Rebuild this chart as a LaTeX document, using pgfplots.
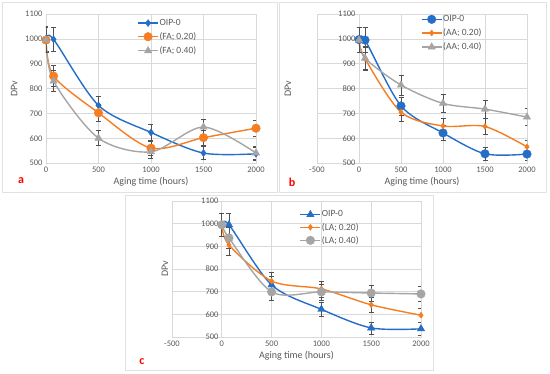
\documentclass[border=0pt]{standalone}
\usepackage{pgfplots}
\pgfplotsset{compat=1.18}
\usepackage{fontspec}
\setmainfont{Carlito}
\definecolor{bl}{RGB}{36,110,200}
\definecolor{orng}{RGB}{245,125,35}
\definecolor{gry}{RGB}{165,165,165}
\definecolor{gridgray}{RGB}{217,217,217}
\definecolor{tickgray}{RGB}{89,89,89}
\definecolor{errgray}{RGB}{80,80,80}
\definecolor{bordergray}{RGB}{225,225,225}
\pgfplotsset{
  panel/.style={
    scale only axis,
    ymin=500, ymax=1100, ytick={500,600,...,1100},
    xtick={-500,0,500,1000,1500,2000},
    grid=major, grid style={draw=gridgray, line width=0.6pt},
    axis line style={draw=gridgray, line width=0.6pt},
    major tick length=0pt,
    tick label style={font=\fontsize{8.5}{9}\selectfont, text=tickgray},
    /pgf/number format/assume math mode=true,
    /pgf/number format/set thousands separator={},
    xlabel={Aging time (hours)}, ylabel={DPv},
    label style={font=\fontsize{10}{11}\selectfont, text=tickgray},
    xlabel style={yshift=2pt},
    legend cell align=left,
    legend style={draw=none, fill=none, font=\fontsize{9.5}{10}\selectfont, text=tickgray,
      anchor=north west, row sep=4pt, nodes={inner sep=0.8pt}},
    legend image code/.code={\draw[mark repeat=2,mark phase=2] plot coordinates {(0pt,0pt) (10pt,0pt) (20pt,0pt)};},
    every axis plot/.append style={line width=1.4pt, smooth, tension=0.5,
      error bars/y dir=both, error bars/y fixed relative=0.05,
      error bars/error bar style={color=errgray, line width=0.6pt, solid},
      error bars/error mark options={color=errgray, line width=0.6pt, mark size=2.5pt, rotate=90}},
  },
  sblue/.style={color=bl, mark options={fill=bl, draw=bl, line width=0.4pt}},
  sorng/.style={color=orng, mark options={fill=orng, draw=orng, line width=0.4pt}},
  sgry/.style={color=gry, mark options={fill=gry, draw=gry, line width=0.4pt}},
}
\begin{document}
\begin{tikzpicture}
\path (0,0) rectangle (550pt,374pt);
\draw[bordergray, line width=0.8pt] (2pt,372pt) rectangle (277pt,182pt);
\draw[bordergray, line width=0.8pt] (279pt,372pt) rectangle (546pt,182pt);
\draw[bordergray, line width=0.8pt] (125pt,179pt) rectangle (433pt,4pt);

% Panel a
\begin{axis}[panel, at={(46pt,211pt)}, anchor=south west, width=210pt, height=149pt,
  xmin=0, xmax=2000,
  ylabel style={at={(axis description cs:-0.152,0.5)}, anchor=center},
  legend style={at={(axis description cs:0.42,0.985)}}]
\addplot+[sblue, mark=diamond*, mark size=3.5pt] coordinates {(0,1000) (72,998) (500,732) (1000,623) (1500,540) (2000,537)};
\addlegendentry{OIP-0}
\addplot+[sorng, mark=*, mark size=4.3pt] coordinates {(0,995) (72,850) (500,702) (1000,560) (1500,602) (2000,640)};
\addlegendentry{(FA; 0.20)}
\addplot+[sgry, mark=triangle*, mark size=4.3pt] coordinates {(0,995) (72,830) (500,600) (1000,545) (1500,645) (2000,540)};
\addlegendentry{(FA; 0.40)}
\end{axis}

% Panel b
\begin{axis}[panel, at={(317pt,211pt)}, anchor=south west, width=210pt, height=149pt,
  xmin=-500, xmax=2000,
  yticklabel style={xshift=42pt},
  ylabel style={at={(axis description cs:-0.138,0.5)}, anchor=center},
  legend style={at={(axis description cs:0.48,1.01)}}]
\addplot+[sblue, mark=*, mark size=4.3pt] coordinates {(0,997) (72,995) (500,730) (1000,621) (1500,537) (2000,536)};
\addlegendentry{OIP-0}
\addplot+[sorng, mark=diamond*, mark size=3pt] coordinates {(0,995) (72,920) (500,705) (1000,649) (1500,647) (2000,565)};
\addlegendentry{(AA; 0.20)}
\addplot+[sgry, mark=triangle*, mark size=4.3pt] coordinates {(0,995) (72,922) (500,814) (1000,740) (1500,717) (2000,685)};
\addlegendentry{(AA; 0.40)}
\end{axis}

% Panel c
\begin{axis}[panel, at={(172pt,37pt)}, anchor=south west, width=249pt, height=136pt,
  xmin=-500, xmax=2000,
  yticklabel style={xshift=50pt},
  xlabel style={yshift=0pt},
  ylabel style={at={(axis description cs:-0.028,0.5)}, anchor=center},
  legend style={at={(axis description cs:0.50,0.95)}, row sep=3pt}]
\addplot+[sblue, mark=triangle*, mark size=4.3pt] coordinates {(0,995) (72,995) (500,730) (1000,622) (1500,540) (2000,536)};
\addlegendentry{OIP-0}
\addplot+[sorng, mark=diamond*, mark size=3pt] coordinates {(0,995) (72,906) (500,747) (1000,712) (1500,642) (2000,596)};
\addlegendentry{(LA; 0.20)}
\addplot+[sgry, mark=*, mark size=4.3pt] coordinates {(0,995) (72,937) (500,699) (1000,699) (1500,694) (2000,690)};
\addlegendentry{(LA; 0.40)}
\end{axis}

\node[text=red, font=\bfseries\fontsize{12}{12}\selectfont] at (21pt,193pt) {a};
\node[text=red, font=\bfseries\fontsize{12}{12}\selectfont] at (292pt,192pt) {b};
\node[text=red, font=\bfseries\fontsize{12}{12}\selectfont] at (142pt,12pt) {c};
\end{tikzpicture}
\end{document}
